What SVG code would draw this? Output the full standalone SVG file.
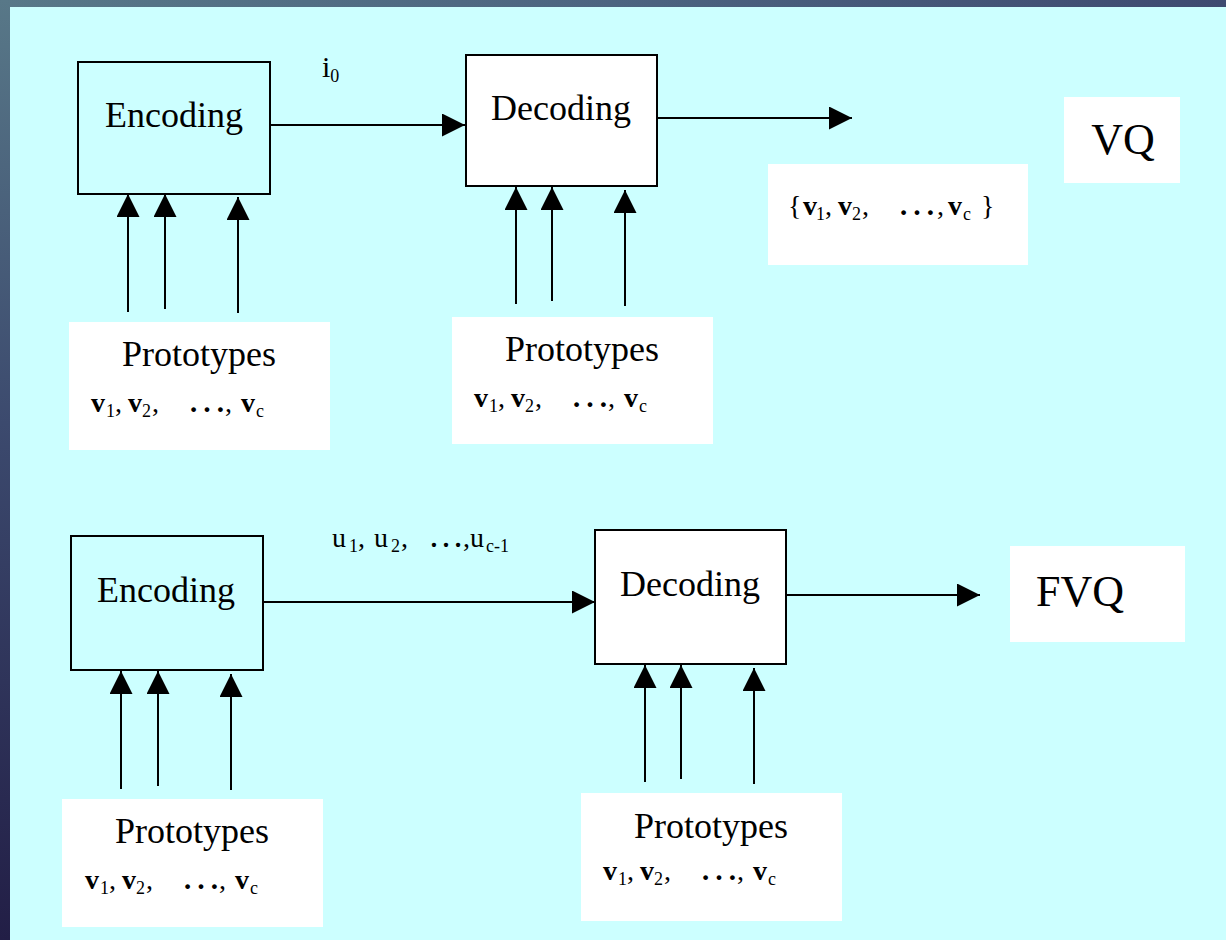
<svg xmlns="http://www.w3.org/2000/svg" width="1226" height="940" viewBox="0 0 1226 940">
  <defs>
    <linearGradient id="topBar" x1="0" y1="0" x2="1" y2="0">
      <stop offset="0" stop-color="#587888"/>
      <stop offset="0.5" stop-color="#4c6480"/>
      <stop offset="1" stop-color="#3e4a70"/>
    </linearGradient>
    <linearGradient id="leftBar" x1="0" y1="0" x2="0" y2="1">
      <stop offset="0" stop-color="#587888"/>
      <stop offset="0.45" stop-color="#3c4a6e"/>
      <stop offset="1" stop-color="#221e46"/>
    </linearGradient>
    <marker id="head" markerUnits="userSpaceOnUse" markerWidth="24" markerHeight="23" refX="23" refY="11.5" orient="auto">
      <path d="M0,0 L23,11.5 L0,23 z" fill="#000"/>
    </marker>
    <style>
      .box { stroke: #000; stroke-width: 2; }
      .enc { fill: none; }
      .dec { fill: #fff; }
      .pane { fill: #fff; }
      .lbl { font-family: "Liberation Serif", "Times New Roman", serif; fill: #000; }
      .big { font-size: 30px; }
      .title { font-size: 36px; }
      .huge { font-size: 44px; }
      .vec { font-size: 28px; }
      .b { font-weight: bold; }
      .sub { font-size: 18px; }
      .dots { font-size: 40px; }
      .wire { stroke: #000; stroke-width: 2; fill: none; marker-end: url(#head); }
    </style>
  </defs>

  <!-- backdrop with slide frame -->
  <rect x="0" y="0" width="1226" height="940" fill="#ccffff"/>
  <rect x="0" y="0" width="1226" height="7" fill="url(#topBar)"/>
  <rect x="0" y="0" width="10" height="940" fill="url(#leftBar)"/>

  <!-- connectors -->
  <g id="connectors">
    <!-- top row -->
    <line class="wire" x1="270" y1="125" x2="465" y2="125"/>
    <line class="wire" x1="657" y1="118" x2="852" y2="118"/>
    <line class="wire" x1="128" y1="312" x2="128" y2="194"/>
    <line class="wire" x1="165" y1="309" x2="165" y2="194"/>
    <line class="wire" x1="238" y1="313" x2="238" y2="197"/>
    <line class="wire" x1="516" y1="304" x2="516" y2="187"/>
    <line class="wire" x1="552" y1="301" x2="552" y2="187"/>
    <line class="wire" x1="625" y1="306" x2="625" y2="190"/>
    <!-- bottom row -->
    <line class="wire" x1="263" y1="602" x2="595" y2="602"/>
    <line class="wire" x1="786" y1="595" x2="980" y2="595"/>
    <line class="wire" x1="121" y1="789" x2="121" y2="671"/>
    <line class="wire" x1="158" y1="786" x2="158" y2="671"/>
    <line class="wire" x1="231" y1="790" x2="231" y2="674"/>
    <line class="wire" x1="645" y1="782" x2="645" y2="665"/>
    <line class="wire" x1="681" y1="779" x2="681" y2="665"/>
    <line class="wire" x1="754" y1="784" x2="754" y2="668"/>
  </g>

  <!-- edge labels -->
  <g id="label-i0">
    <text class="lbl big" x="322" y="77">i<tspan class="sub" dy="5">0</tspan></text>
  </g>
  <g id="label-u">
    <text class="lbl vec" y="547"><tspan x="332">u</tspan><tspan class="sub" x="349" dy="5">1</tspan><tspan x="358" dy="-5">,</tspan><tspan x="374">u</tspan><tspan class="sub" x="391" dy="5">2</tspan><tspan x="401" dy="-5">,</tspan><tspan x="428" style="font-size:36px">…</tspan><tspan x="463">,</tspan><tspan x="470">u</tspan><tspan class="sub" x="486" dy="5">c-1</tspan></text>
  </g>

  <!-- top row nodes -->
  <g id="encode-top">
    <rect class="box enc" x="78" y="62" width="192" height="132"/>
    <text class="lbl title" x="174" y="127" text-anchor="middle">Encoding</text>
  </g>
  <g id="decode-top">
    <rect class="box dec" x="466" y="55" width="191" height="131"/>
    <text class="lbl title" x="561" y="120" text-anchor="middle">Decoding</text>
  </g>
  <g id="vq-tag">
    <rect class="pane" x="1064" y="97" width="116" height="86"/>
    <text class="lbl huge" x="1123" y="154" text-anchor="middle">VQ</text>
  </g>
  <g id="codebook-out">
    <rect class="pane" x="768" y="164" width="260" height="101"/>
    <text class="lbl vec" y="215"><tspan x="788">{</tspan><tspan class="b" x="803">v</tspan><tspan class="sub" x="816" dy="5">1</tspan><tspan x="825" dy="-5">,</tspan><tspan class="b" x="838">v</tspan><tspan class="sub" x="852" dy="5">2</tspan><tspan x="862" dy="-5">,</tspan><tspan class="dots" x="897">…</tspan><tspan x="937">,</tspan><tspan class="b" x="948">v</tspan><tspan class="sub" x="963" dy="5">c</tspan><tspan x="981" dy="-5">}</tspan></text>
  </g>
  <g id="protos-enc-top">
    <rect class="pane" x="69" y="322" width="261" height="128"/>
    <text class="lbl title" x="199" y="366" text-anchor="middle">Prototypes</text>
    <text class="lbl vec" y="412"><tspan class="b" x="91">v</tspan><tspan class="sub" x="106" dy="5">1</tspan><tspan x="115" dy="-5">,</tspan><tspan class="b" x="128">v</tspan><tspan class="sub" x="142" dy="5">2</tspan><tspan x="152" dy="-5">,</tspan><tspan class="dots" x="187">…</tspan><tspan x="225">,</tspan><tspan class="b" x="241">v</tspan><tspan class="sub" x="256" dy="5">c</tspan></text>
  </g>
  <g id="protos-dec-top">
    <rect class="pane" x="452" y="317" width="261" height="127"/>
    <text class="lbl title" x="582" y="361" text-anchor="middle">Prototypes</text>
    <text class="lbl vec" y="407"><tspan class="b" x="474">v</tspan><tspan class="sub" x="489" dy="5">1</tspan><tspan x="498" dy="-5">,</tspan><tspan class="b" x="511">v</tspan><tspan class="sub" x="525" dy="5">2</tspan><tspan x="535" dy="-5">,</tspan><tspan class="dots" x="570">…</tspan><tspan x="608">,</tspan><tspan class="b" x="624">v</tspan><tspan class="sub" x="639" dy="5">c</tspan></text>
  </g>

  <!-- bottom row nodes -->
  <g id="encode-bottom">
    <rect class="box enc" x="71" y="536" width="192" height="134"/>
    <text class="lbl title" x="166" y="602" text-anchor="middle">Encoding</text>
  </g>
  <g id="decode-bottom">
    <rect class="box dec" x="595" y="530" width="191" height="134"/>
    <text class="lbl title" x="690" y="596" text-anchor="middle">Decoding</text>
  </g>
  <g id="fvq-tag">
    <rect class="pane" x="1010" y="546" width="175" height="96"/>
    <text class="lbl huge" x="1080" y="606" text-anchor="middle">FVQ</text>
  </g>
  <g id="protos-enc-bottom">
    <rect class="pane" x="62" y="799" width="261" height="128"/>
    <text class="lbl title" x="192" y="843" text-anchor="middle">Prototypes</text>
    <text class="lbl vec" y="889"><tspan class="b" x="85">v</tspan><tspan class="sub" x="100" dy="5">1</tspan><tspan x="109" dy="-5">,</tspan><tspan class="b" x="122">v</tspan><tspan class="sub" x="136" dy="5">2</tspan><tspan x="146" dy="-5">,</tspan><tspan class="dots" x="181">…</tspan><tspan x="219">,</tspan><tspan class="b" x="235">v</tspan><tspan class="sub" x="250" dy="5">c</tspan></text>
  </g>
  <g id="protos-dec-bottom">
    <rect class="pane" x="581" y="793" width="261" height="128"/>
    <text class="lbl title" x="711" y="838" text-anchor="middle">Prototypes</text>
    <text class="lbl vec" y="880"><tspan class="b" x="603">v</tspan><tspan class="sub" x="618" dy="5">1</tspan><tspan x="627" dy="-5">,</tspan><tspan class="b" x="640">v</tspan><tspan class="sub" x="654" dy="5">2</tspan><tspan x="664" dy="-5">,</tspan><tspan class="dots" x="699">…</tspan><tspan x="737">,</tspan><tspan class="b" x="753">v</tspan><tspan class="sub" x="768" dy="5">c</tspan></text>
  </g>
</svg>
